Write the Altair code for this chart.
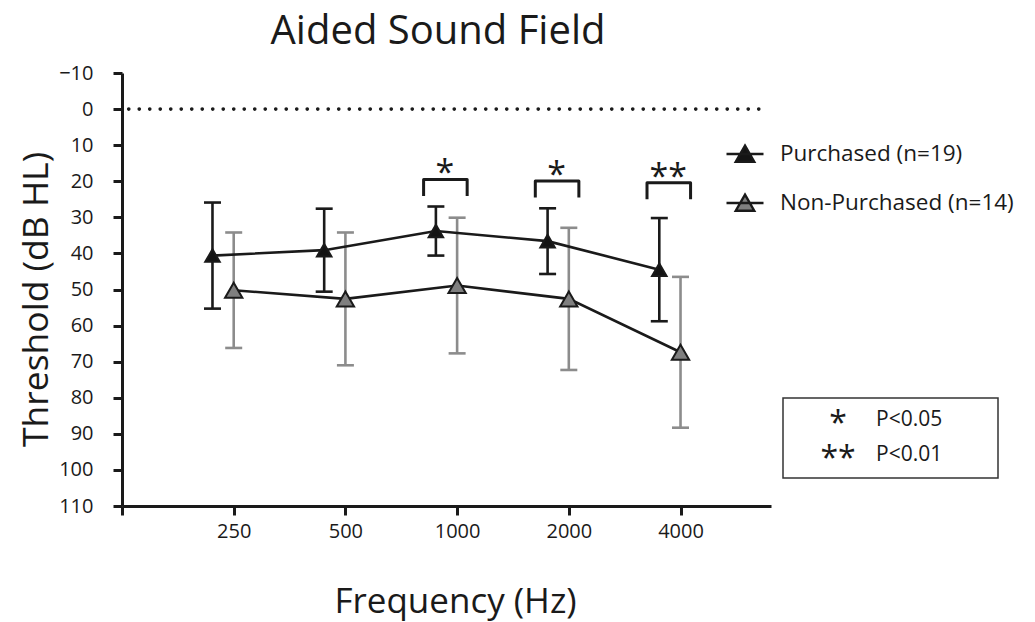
import json
import altair as alt
import pandas as pd

# ---------------- data ----------------
chart_title = "Aided Sound Field"
freqs = ["250", "500", "1000", "2000", "4000"]
purchased_mean = [40.6, 39.1, 33.8, 36.6, 44.5]
purchased_sd = [14.7, 11.5, 6.8, 9.1, 14.3]
nonpurchased_mean = [50.2, 52.6, 48.9, 52.6, 67.4]
nonpurchased_sd = [16.0, 18.4, 18.8, 19.7, 20.9]
groups = ["Purchased (n=19)", "Non-Purchased (n=14)"]
sig_index = [2, 3, 4]
sig_marks = ["*", "*", "**"]
sig_level = [19.5, 19.9, 20.4]
y_ticks = list(range(-10, 111, 10))
key_symbols = ["*", "**"]
key_labels = ["P<0.05", "P<0.01"]

# ---------------- tables ----------------
offsets = {groups[0]: -0.19, groups[1]: 0.0}
rows = []
for g, means, sds in [(groups[0], purchased_mean, purchased_sd),
                      (groups[1], nonpurchased_mean, nonpurchased_sd)]:
    for i, (m, s) in enumerate(zip(means, sds)):
        rows.append({"group": g, "freq": freqs[i], "x": i + offsets[g],
                     "mean": m, "lo": m - s, "hi": m + s})
df = pd.DataFrame(rows)

br_rows, st_rows = [], []
for k, (i, lev, mk) in enumerate(zip(sig_index, sig_level, sig_marks)):
    left, right, leg = i - 0.3, i + 0.09, lev + 4.6
    for o, (bx, by) in enumerate([(left, leg), (left, lev), (right, lev), (right, leg)]):
        br_rows.append({"b": k, "o": o, "x": bx, "y": by})
    st_rows.append({"x": i - 0.11, "y": lev, "t": mk})
br_df = pd.DataFrame(br_rows)
st_df = pd.DataFrame(st_rows)
zero_df = pd.DataFrame({"x": [-0.94], "x2": [4.72], "y": [0]})

INK = "#1a1a1a"
GREY = "#8c8c8c"
FONT = "Open Sans"
TRI = "M0,-0.866L1,0.866L-1,0.866Z"
LEG = "M-1,0H1M0,-0.45L0.5,0.42H-0.5Z"

xs = alt.Scale(domain=[-1, 4.81], nice=False, zero=False)
ys = alt.Scale(domain=[-10, 110], reverse=True, nice=False, zero=False)

x_axis = alt.Axis(values=[-1, 0, 1, 2, 3, 4],
                  labelExpr="datum.value < 0 ? '' : " + json.dumps(freqs) + "[datum.value]",
                  tickSize=9, labelPadding=6, labelOverlap=False, title="Frequency (Hz)",
                  titleX=333, titleY=106, titleBaseline="alphabetic", titleAlign="center",
                  titleFontSize=35)
y_axis = alt.Axis(values=y_ticks, tickSize=9, labelPadding=20, labelOverlap=False,
                  title="Threshold (dB HL)",
                  titleX=-86, titleY=226, titleAngle=270, titleAlign="center",
                  titleBaseline="middle", titleFontSize=35.5)


def X(field):
    return alt.X(field, scale=xs, axis=x_axis)


def Y(field):
    return alt.Y(field, scale=ys, axis=y_axis)


base = alt.Chart(df)

zero_line = alt.Chart(zero_df).mark_rule(
    color=INK, strokeWidth=3.6, strokeDash=[0.1, 10.4], strokeCap="round"
).encode(x=X("x:Q"), x2="x2:Q", y=Y("y:Q"))

fill_enc = alt.Fill(
    "group:N", scale=alt.Scale(domain=groups, range=["#141414", "#7f7f7f"]),
    legend=alt.Legend(title=None, orient="none", legendX=603, legendY=61,
                      symbolType=LEG, symbolSize=1369,
                      symbolStrokeColor=INK, symbolStrokeWidth=2.4,
                      symbolOpacity=1, labelFont=FONT, labelFontSize=22.5,
                      labelColor=INK, labelOffset=15, labelLimit=400,
                      rowPadding=16, padding=0))

err_layers, point_layers = [], []
for g, col, sz in [(groups[1], GREY, 300), (groups[0], INK, 210)]:
    sub = base.transform_filter(alt.datum.group == g)
    err_layers.append(sub.mark_rule(strokeWidth=2.6, color=col).encode(
        x=X("x:Q"), y=Y("lo:Q"), y2="hi:Q"))
    err_layers.append(sub.transform_fold(["lo", "hi"], as_=["end", "val"]).mark_tick(
        orient="horizontal", size=17, thickness=2.6, opacity=1, color=col
    ).encode(x=X("x:Q"), y=Y("val:Q")))
    point_layers.append(sub.mark_point(shape=TRI, filled=True, stroke=INK, strokeWidth=2,
                                       opacity=1, size=sz).encode(
        x=X("x:Q"), y=Y("mean:Q"), fill=fill_enc))

lines = base.mark_line(color=INK, strokeWidth=2.6).encode(
    x=X("x:Q"), y=Y("mean:Q"), detail="group:N")

brackets = alt.Chart(br_df).mark_line(color=INK, strokeWidth=3, strokeJoin="round").encode(
    x=X("x:Q"), y=Y("y:Q"), detail="b:N", order="o:Q")

stars = alt.Chart(st_df).mark_text(font=FONT, fontSize=34, color=INK, baseline="alphabetic",
                                   dy=5).encode(x=X("x:Q"), y=Y("y:Q"), text="t:N")

title_layer = alt.Chart(pd.DataFrame({"t": [chart_title]})).mark_text(
    font=FONT, fontSize=40, color=INK, baseline="alphabetic", align="center"
).encode(x=alt.value(316), y=alt.value(-29), text="t:N")

key_df = pd.DataFrame({"sym": key_symbols, "lab": key_labels})
key_box = alt.Chart(key_df.head(1)).mark_rect(
    fillOpacity=0, stroke="#333333", strokeWidth=1.5
).encode(x=alt.value(661), x2=alt.value(876), y=alt.value(325), y2=alt.value(405))

key_layers = [key_box]
for r, (sym, lab) in enumerate(zip(key_symbols, key_labels)):
    row = pd.DataFrame({"sym": [sym], "lab": [lab]})
    ybase = 353 + 35 * r
    key_layers.append(alt.Chart(row).mark_text(font=FONT, fontSize=32, color=INK,
                                               baseline="alphabetic", align="center", dy=8).encode(
        x=alt.value(716), y=alt.value(ybase), text="sym:N"))
    key_layers.append(alt.Chart(row).mark_text(font=FONT, fontSize=21, color=INK,
                                               baseline="alphabetic", align="left").encode(
        x=alt.value(754), y=alt.value(ybase), text="lab:N"))

chart = alt.layer(zero_line, *err_layers, lines, *point_layers, brackets, stars,
                  title_layer, *key_layers).properties(
    width=649, height=433,
    autosize=alt.AutoSizeParams(type="none"),
    padding={"left": 122, "top": 73, "right": 264, "bottom": 116},
    background="white",
).configure_view(stroke=None).configure_axis(
    domainColor=INK, domainWidth=3, tickColor=INK, tickWidth=3, grid=False,
    labelFont=FONT, labelFontSize=20, labelColor=INK, labelOverlap=False,
    titleFont=FONT, titleFontWeight="normal", titleColor=INK,
)

chart.save("out.html", embed_options={"renderer": "svg", "actions": False})
